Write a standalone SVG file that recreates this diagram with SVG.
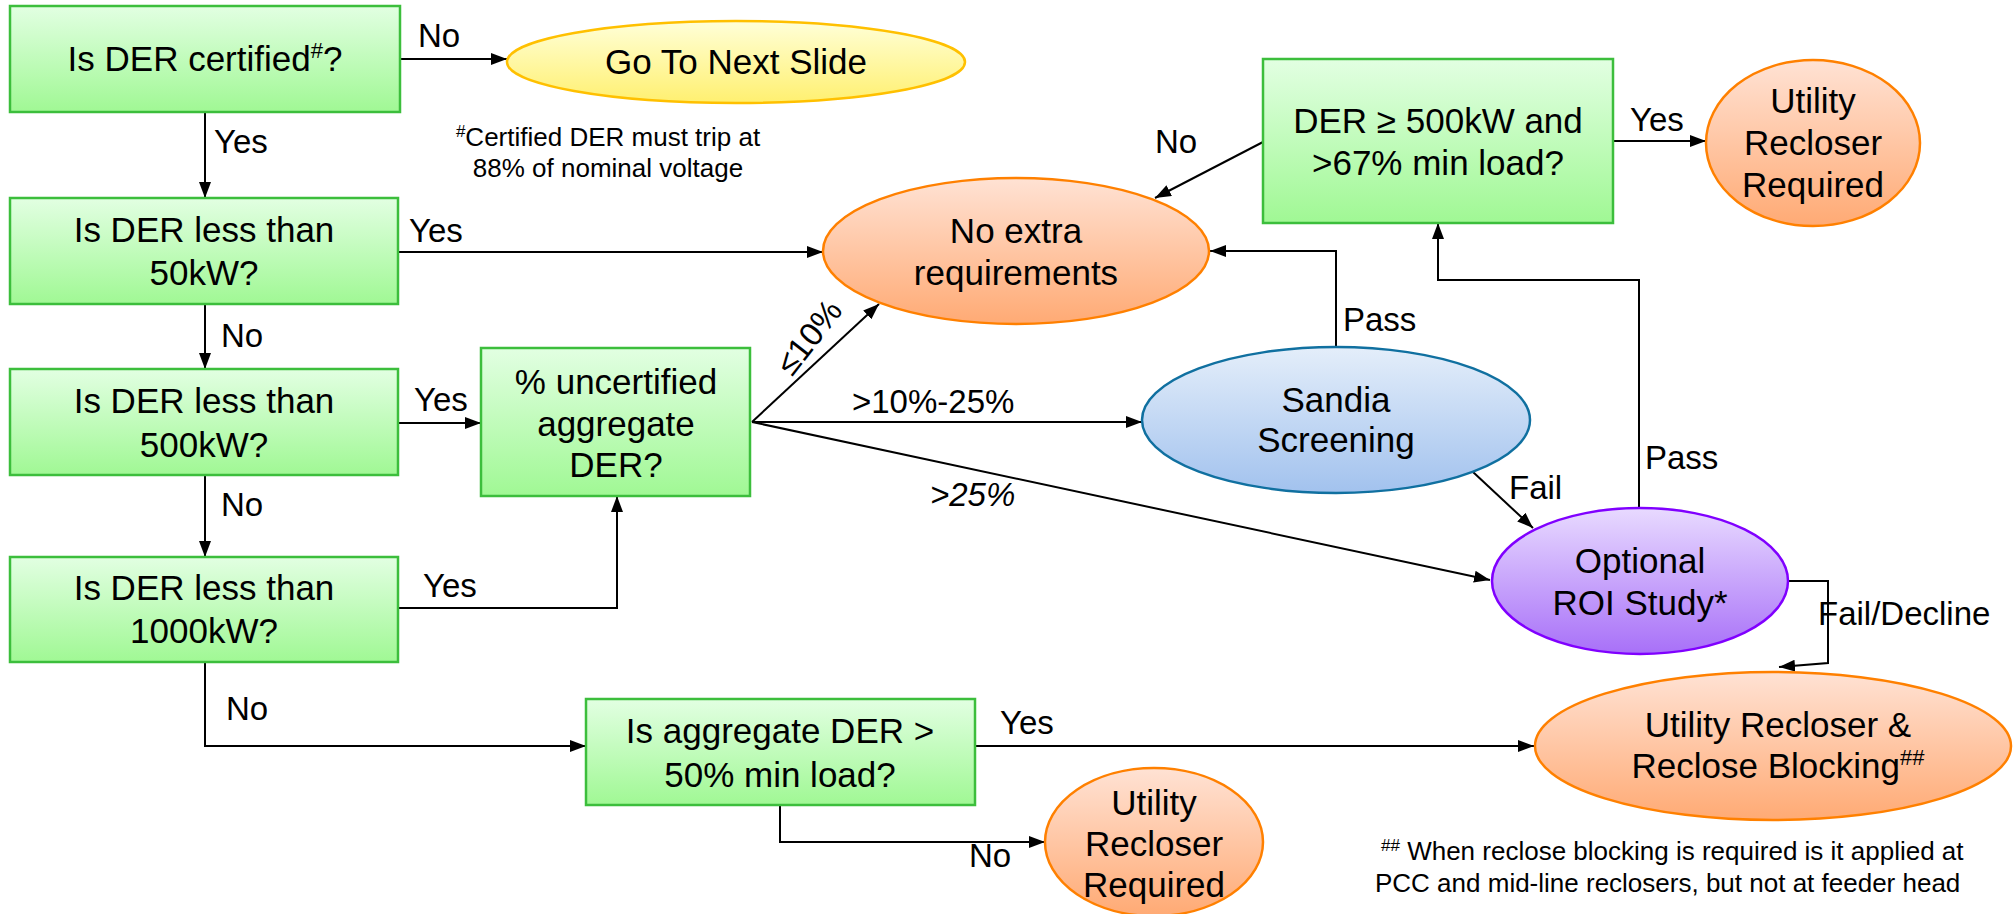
<svg xmlns="http://www.w3.org/2000/svg" width="2015" height="914" viewBox="0 0 2015 914">
<defs>
<linearGradient id="gGreen" x1="0" y1="0" x2="0" y2="1"><stop offset="0" stop-color="#E2FFE2"/><stop offset="1" stop-color="#A0F894"/></linearGradient>
<linearGradient id="gYellow" x1="0" y1="0" x2="0" y2="1"><stop offset="0" stop-color="#FFFFD8"/><stop offset="1" stop-color="#FFF070"/></linearGradient>
<linearGradient id="gOrange" x1="0" y1="0" x2="0" y2="1"><stop offset="0" stop-color="#FFE2D4"/><stop offset="1" stop-color="#FFAA74"/></linearGradient>
<linearGradient id="gBlue" x1="0" y1="0" x2="0" y2="1"><stop offset="0" stop-color="#E4EEFA"/><stop offset="1" stop-color="#A2C2EE"/></linearGradient>
<linearGradient id="gPurple" x1="0" y1="0" x2="0" y2="1"><stop offset="0" stop-color="#E8DAFF"/><stop offset="1" stop-color="#A870F8"/></linearGradient>
<marker id="arr" markerUnits="userSpaceOnUse" markerWidth="18" markerHeight="14" refX="16" refY="6" orient="auto"><path d="M0,0 L16,6 L0,12 z" fill="#000"/></marker>
</defs>
<style>
.box{fill:url(#gGreen);stroke:#3CBE3C;stroke-width:2.5}
.yel{fill:url(#gYellow);stroke:#FFC000;stroke-width:2.5}
.org{fill:url(#gOrange);stroke:#FF8000;stroke-width:2.5}
.blu{fill:url(#gBlue);stroke:#1070A0;stroke-width:2.5}
.pur{fill:url(#gPurple);stroke:#8000FF;stroke-width:2.5}
text{font-family:"Liberation Sans",Arial,sans-serif;fill:#000}
.t{font-size:35px;text-anchor:middle}
.l{font-size:33px}
.n{font-size:26px}
.c{fill:none;stroke:#000;stroke-width:2;marker-end:url(#arr)}
</style>
<g id="connectors">
<path class="c" d="M400,59 L507,59"/>
<path class="c" d="M205,112 L205,198"/>
<path class="c" d="M398,252 L823,252"/>
<path class="c" d="M205,304 L205,369"/>
<path class="c" d="M398,423 L481,423"/>
<path class="c" d="M205,475 L205,557"/>
<path class="c" d="M398,608 L617,608 L617,496"/>
<path class="c" d="M205,662 L205,746 L586,746"/>
<path class="c" d="M752,422 L879,304"/>
<path class="c" d="M752,422 L1142,422"/>
<path class="c" d="M752,422 L1490,580"/>
<path class="c" d="M1336,347 L1336,251 L1210,251"/>
<path class="c" d="M1473,472 L1533,528"/>
<path class="c" d="M1639,508 L1639,280 L1438,280 L1438,223"/>
<path class="c" d="M1263,142 L1155,198"/>
<path class="c" d="M1613,141 L1706,141"/>
<path class="c" d="M1788,581 L1828,581 L1828,663 L1779,667"/>
<path class="c" d="M975,746 L1534,746"/>
<path class="c" d="M780,805 L780,842 L1045,842"/>
<text class="l" x="418" y="47">No</text>
<text class="l" x="214" y="153">Yes</text>
<text class="l" x="409" y="242">Yes</text>
<text class="l" x="221" y="347">No</text>
<text class="l" x="414" y="411">Yes</text>
<text class="l" x="221" y="516">No</text>
<text class="l" x="423" y="597">Yes</text>
<text class="l" x="226" y="720">No</text>
<text class="l" x="0" y="0" text-anchor="middle" transform="translate(818,344) rotate(-52)">≤10%</text>
<text class="l" x="852" y="413">&gt;10%-25%</text>
<text class="l" x="930" y="506" font-style="italic">&gt;25%</text>
<text class="l" x="1343" y="331">Pass</text>
<text class="l" x="1509" y="499">Fail</text>
<text class="l" x="1645" y="469">Pass</text>
<text class="l" x="1155" y="153">No</text>
<text class="l" x="1630" y="131">Yes</text>
<text class="l" x="1818" y="625">Fail/Decline</text>
<text class="l" x="1000" y="734">Yes</text>
<text class="l" x="969" y="867">No</text>
</g>
<g id="n-certified"><rect class="box" x="10" y="6" width="390" height="106"/><text class="t" x="205" y="71">Is DER certified<tspan font-size="22" dy="-13">#</tspan><tspan dy="13">?</tspan></text></g>
<g id="n-next"><ellipse class="yel" cx="736" cy="62" rx="229" ry="41"/><text class="t" x="736" y="74">Go To Next Slide</text></g>
<g id="n-note1"><text class="n" x="608" y="146" text-anchor="middle"><tspan font-size="17" dy="-9">#</tspan><tspan dy="9">Certified DER must trip at</tspan></text><text class="n" x="608" y="177" text-anchor="middle">88% of nominal voltage</text></g>
<g id="n-50kw"><rect class="box" x="10" y="198" width="388" height="106"/><text class="t" x="204" y="242">Is DER less than</text><text class="t" x="204" y="285">50kW?</text></g>
<g id="n-500kw"><rect class="box" x="10" y="369" width="388" height="106"/><text class="t" x="204" y="413">Is DER less than</text><text class="t" x="204" y="457">500kW?</text></g>
<g id="n-1000kw"><rect class="box" x="10" y="557" width="388" height="105"/><text class="t" x="204" y="600">Is DER less than</text><text class="t" x="204" y="643">1000kW?</text></g>
<g id="n-uncert"><rect class="box" x="481" y="348" width="269" height="148"/><text class="t" x="616" y="394">% uncertified</text><text class="t" x="616" y="436">aggregate</text><text class="t" x="616" y="477">DER?</text></g>
<g id="n-noextra"><ellipse class="org" cx="1016" cy="251" rx="193" ry="73"/><text class="t" x="1016" y="243">No extra</text><text class="t" x="1016" y="285">requirements</text></g>
<g id="n-500and67"><rect class="box" x="1263" y="59" width="350" height="164"/><text class="t" x="1438" y="133">DER ≥ 500kW and</text><text class="t" x="1438" y="175">&gt;67% min load?</text></g>
<g id="n-recl1"><ellipse class="org" cx="1813" cy="143" rx="107" ry="83"/><text class="t" x="1813" y="113">Utility</text><text class="t" x="1813" y="155">Recloser</text><text class="t" x="1813" y="197">Required</text></g>
<g id="n-sandia"><ellipse class="blu" cx="1336" cy="420" rx="194" ry="73"/><text class="t" x="1336" y="412">Sandia</text><text class="t" x="1336" y="452">Screening</text></g>
<g id="n-roi"><ellipse class="pur" cx="1640" cy="581" rx="148" ry="73"/><text class="t" x="1640" y="573">Optional</text><text class="t" x="1640" y="615">ROI Study*</text></g>
<g id="n-blocking"><ellipse class="org" cx="1773" cy="746" rx="238" ry="74"/><text class="t" x="1778" y="737">Utility Recloser &amp;</text><text class="t" x="1778" y="778">Reclose Blocking<tspan font-size="22" dy="-13">##</tspan></text></g>
<g id="n-aggr"><rect class="box" x="586" y="699" width="389" height="106"/><text class="t" x="780" y="743">Is aggregate DER &gt;</text><text class="t" x="780" y="787">50% min load?</text></g>
<g id="n-recl2"><ellipse class="org" cx="1154" cy="842" rx="109" ry="74"/><text class="t" x="1154" y="815">Utility</text><text class="t" x="1154" y="856">Recloser</text><text class="t" x="1154" y="897">Required</text></g>
<g id="n-note2"><text class="n" x="1381" y="860"><tspan font-size="17" dy="-9">##</tspan><tspan dy="9">  When reclose blocking is required is it applied at</tspan></text><text class="n" x="1375" y="892">PCC and mid-line reclosers, but not at feeder head</text></g>
</svg>
